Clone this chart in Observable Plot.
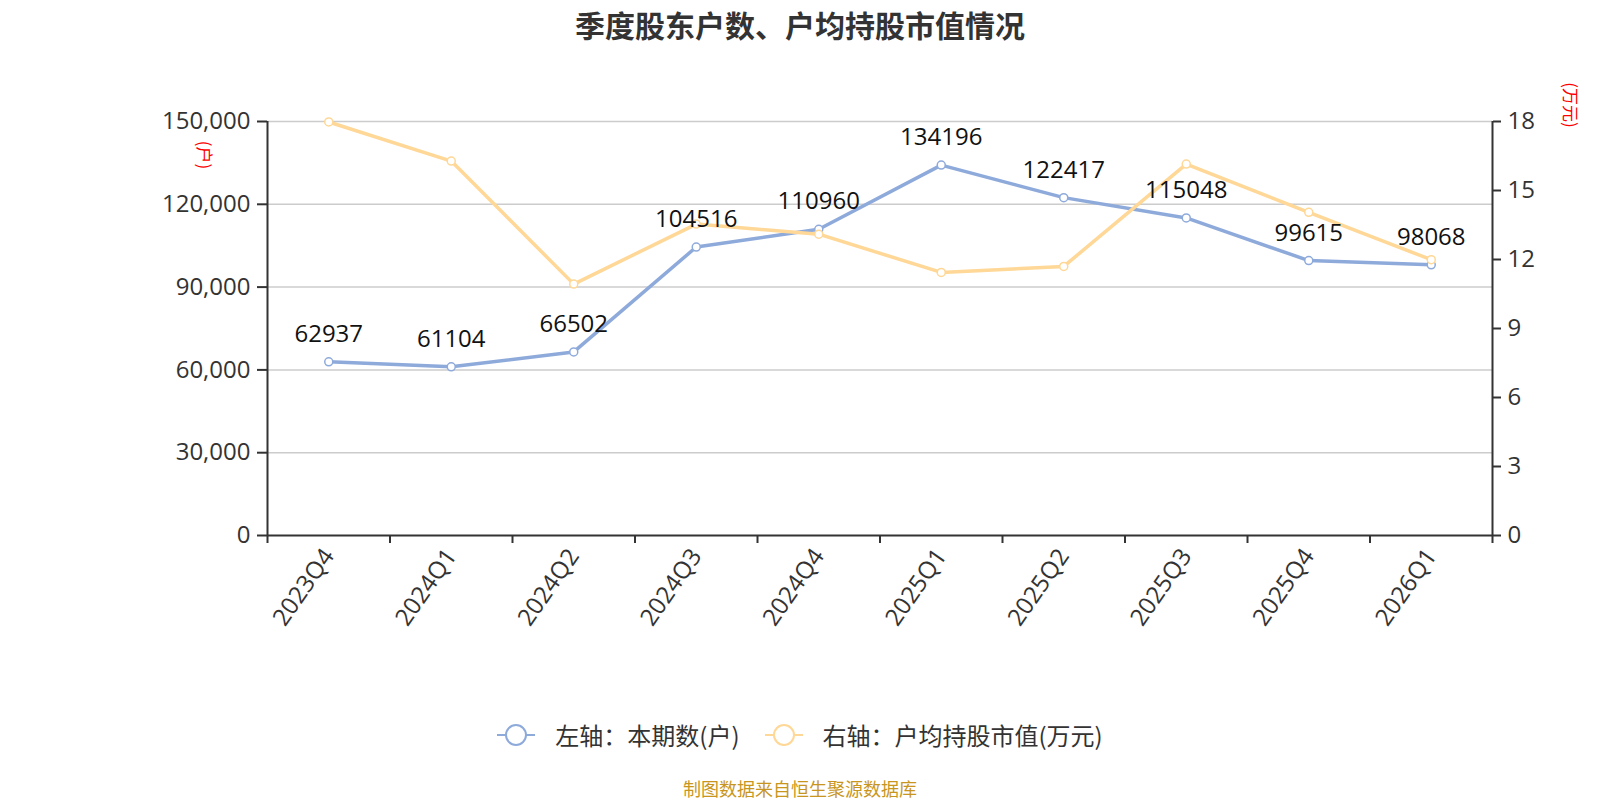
<!DOCTYPE html>
<html>
<head>
<meta charset="utf-8">
<script src="https://cdn.jsdelivr.net/npm/d3@7"></script>
<script src="https://cdn.jsdelivr.net/npm/@observablehq/plot@0.6"></script>
<style>
  body { margin: 0; background: #fff; font-family: "Noto Sans CJK SC", "Noto Sans", sans-serif; }
  #wrap { position: relative; width: 1600px; height: 800px; overflow: hidden; background: #fff; }
  #title { position: absolute; top: 4px; left: 0; width: 1600px; text-align: center; font-size: 30px; line-height: 40px; font-weight: bold; color: #333; }
  #chart { position: absolute; top: 0; left: 0; }
  .unit { position: absolute; color: #f00; font-size: 17px; line-height: 18px; white-space: nowrap; transform: translate(-50%, -50%) rotate(90deg); }
  #legend { position: absolute; top: 720px; left: 0; width: 1600px; display: flex; justify-content: center; align-items: center; font-size: 24px; line-height: 30px; color: #333; }
  .item { display: flex; align-items: center; }
  .item svg { margin-right: 20px; }
  .item + .item { margin-left: 25px; }
  #source { position: absolute; top: 778px; left: 0; width: 1600px; text-align: center; font-size: 18px; line-height: 20px; color: #c8961e; }
</style>
</head>
<body>
<div id="wrap">
  <div id="title">季度股东户数、户均持股市值情况</div>
  <div id="chart"></div>
  <div class="unit" style="left:205px; top:155px;">(户)</div>
  <div class="unit" style="left:1571px; top:105px;">(万元)</div>
  <div id="legend"></div>
  <div id="source">制图数据来自恒生聚源数据库</div>
</div>
<script>
const quarters = ["2023Q4", "2024Q1", "2024Q2", "2024Q3", "2024Q4", "2025Q1", "2025Q2", "2025Q3", "2025Q4", "2026Q1"];
const holders = [62937, 61104, 66502, 104516, 110960, 134196, 122417, 115048, 99615, 98068];
const avgValue = [17.98, 16.28, 10.93, 13.54, 13.10, 11.44, 11.70, 16.15, 14.05, 11.99];
const leftTicks = [0, 30000, 60000, 90000, 120000, 150000];
const rightTicks = [0, 3, 6, 9, 12, 15, 18];
const seriesNames = ["左轴：本期数(户)", "右轴：户均持股市值(万元)"];
const blue = "#8eaadb";
const orange = "#ffd796";

const leftMax = leftTicks[leftTicks.length - 1];
const rightMax = rightTicks[rightTicks.length - 1];
const k = leftMax / rightMax;
const rows = quarters.map((q, i) => ({ i, q, h: holders[i], v: avgValue[i], vy: avgValue[i] * k }));
const bounds = d3.range(quarters.length + 1).map(i => i - 0.5);
const fontFamily = '"Open Sans", "Noto Sans CJK SC", sans-serif';

const chart = Plot.plot({
  width: 1600,
  height: 680,
  marginTop: 121,
  marginBottom: 145,
  marginLeft: 267,
  marginRight: 108,
  x: { type: "linear", domain: [-0.5, quarters.length - 0.5] },
  y: { domain: [0, leftMax] },
  style: { fontFamily, background: "transparent", overflow: "visible" },
  marks: [
    Plot.gridY({ ticks: leftTicks.filter(t => t > 0), stroke: "#cccccc", strokeOpacity: 1, strokeWidth: 1.5 }),
    Plot.axisY({ ticks: leftTicks, anchor: "left", tickSize: 10, tickPadding: 7, tickFormat: d3.format(","), fontSize: 24, color: "#333", strokeWidth: 2, label: null }),
    Plot.axisY({ ticks: rightTicks.map(t => t * k), anchor: "right", tickSize: 8, tickPadding: 7, tickFormat: d => String(Math.round(d / k)), fontSize: 24, color: "#333", strokeWidth: 2, label: null }),
    Plot.axisX({ ticks: bounds, anchor: "bottom", tickSize: 8, tickFormat: () => "", color: "#333", strokeWidth: 2, label: null }),
    Plot.ruleX([-0.5, quarters.length - 0.5], { stroke: "#333", strokeWidth: 2 }),
    Plot.ruleY([0], { stroke: "#333", strokeWidth: 2 }),
    Plot.text(rows, { x: "i", frameAnchor: "bottom", text: "q", rotate: -55, textAnchor: "end", lineAnchor: "middle", dy: 16, fontSize: 24, fill: "#333" }),
    Plot.line(rows, { x: "i", y: "h", stroke: blue, strokeWidth: 3.5 }),
    Plot.dot(rows, { x: "i", y: "h", r: 4, fill: "white", stroke: blue, strokeWidth: 1.5 }),
    Plot.line(rows, { x: "i", y: "vy", stroke: orange, strokeWidth: 3.5 }),
    Plot.dot(rows, { x: "i", y: "vy", r: 4, fill: "white", stroke: orange, strokeWidth: 1.5 }),
    Plot.text(rows, { x: "i", y: "h", text: d => String(d.h), dy: -20, lineAnchor: "bottom", fontSize: 24, fill: "#111" })
  ]
});
document.getElementById("chart").appendChild(chart);

const legend = document.getElementById("legend");
[[seriesNames[0], blue], [seriesNames[1], orange]].forEach(([name, color]) => {
  const item = document.createElement("div");
  item.className = "item";
  item.innerHTML = `<svg width="38" height="26" viewBox="0 0 38 26"><line x1="0" y1="13" x2="38" y2="13" stroke="${color}" stroke-width="2"/><circle cx="19" cy="13" r="10" fill="white" stroke="${color}" stroke-width="2"/></svg><span>${name}</span>`;
  legend.appendChild(item);
});
</script>
</body>
</html>
